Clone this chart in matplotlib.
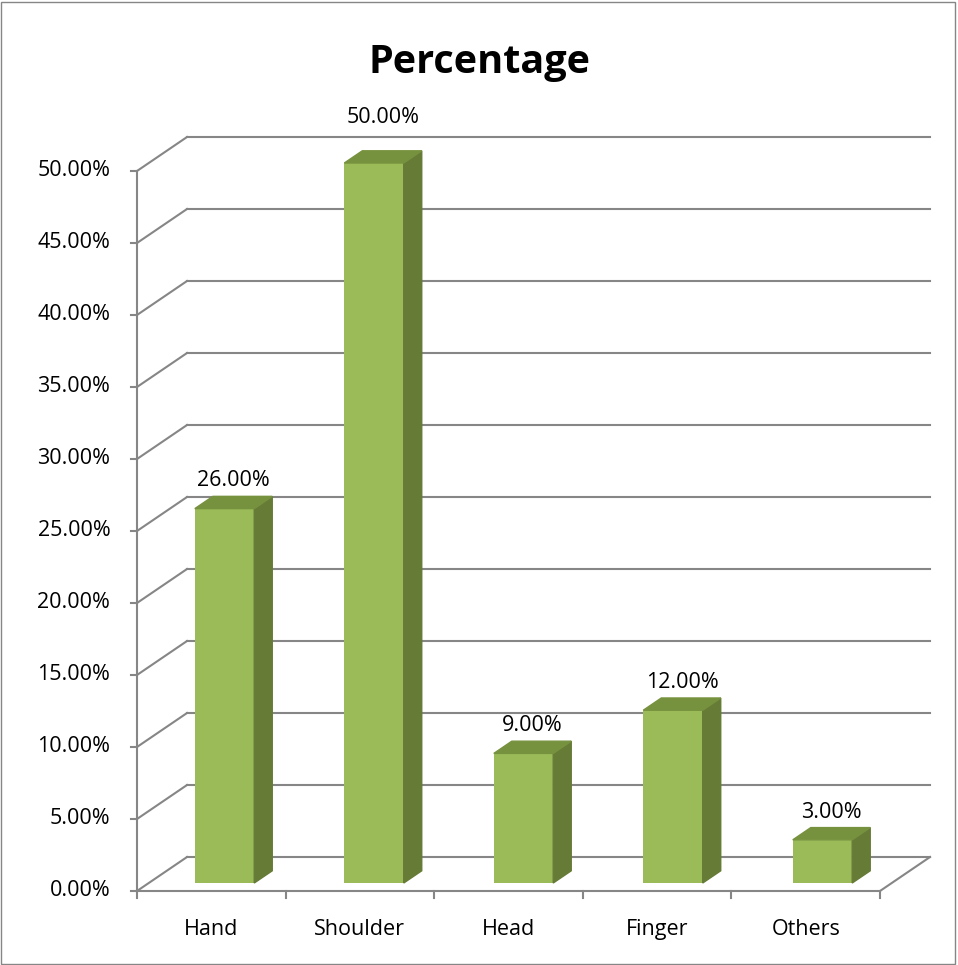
import matplotlib
matplotlib.use("Agg")
import matplotlib.pyplot as plt
from matplotlib.patches import Polygon, Rectangle

plt.rcParams['font.family'] = ['Open Sans', 'DejaVu Sans']

# data
categories = ["Hand", "Shoulder", "Head", "Finger", "Others"]
values = [26.0, 50.0, 9.0, 12.0, 3.0]
yticks = [0, 5, 10, 15, 20, 25, 30, 35, 40, 45, 50]

# 3d look (oblique projection, in data units)
DDX = 0.3365   # x shift of back wall (category units)
DDY = 2.36     # y shift of back wall (percent units)
D0 = 0.235     # depth of bar front face
DT = 0.36      # bar depth
BW = 0.40      # bar width

FRONT = "#9BBB59"
SIDE = "#657B36"
TOP = "#77923E"
GRID = "#868686"

fig = plt.figure(figsize=(9.58, 9.65), dpi=100)
ax = fig.add_axes([0, 0, 1, 1])
ax.set_xlim(-137 / 148.6, (958 - 137) / 148.6)
ax.set_ylim((891 - 965) / 14.4, 891 / 14.4)
ax.axis('off')

n = len(categories)

# back wall gridlines + left wall diagonals
for v in yticks:
    ax.plot([DDX, n + DDX], [v + DDY, v + DDY], color=GRID, lw=1.5, zorder=1)
    ax.plot([0, DDX], [v, v + DDY], color=GRID, lw=1.5, zorder=1)
    ax.plot([-0.04, 0], [v, v], color=GRID, lw=1.5, zorder=1)

# floor
ax.plot([0, n], [0, 0], color=GRID, lw=1.5, zorder=1)
ax.plot([n, n + DDX], [0, DDY], color=GRID, lw=1.5, zorder=1)
ax.plot([0, 0], [0, max(yticks)], color=GRID, lw=1.5, zorder=1)
for i in range(n + 1):
    ax.plot([i, i], [0, -0.5], color=GRID, lw=1.5, zorder=1)

# bars
ox, oy = D0 * DDX, D0 * DDY
sx, sy = DT * DDX, DT * DDY
xs = [i + 0.5 + ox + 0.01 + 0.006 * i for i in range(n)]
ax.bar(xs, values, width=BW, bottom=oy, color=FRONT, zorder=3)
for x, v in zip(xs, values):
    r = x + BW / 2
    l = x - BW / 2
    top = v + oy
    ax.add_patch(Polygon([(r, oy), (r + sx, oy + sy), (r + sx, top + sy), (r, top)],
                         closed=True, color=SIDE, zorder=3))
    ax.add_patch(Polygon([(l, top), (r, top), (r + sx, top + sy), (l + sx, top + sy)],
                         closed=True, color=TOP, zorder=3))
    pad = 1.6 if v == max(values) else 0.35
    ax.text(x + sx / 2, top + sy + pad, f"{v:.2f}%", ha='center', va='bottom',
            fontsize=15.5, zorder=4)

# tick labels
for v in yticks:
    ax.text(-0.18, v, f"{v:.2f}%", ha='right', va='center', fontsize=15.5)
for i, c in enumerate(categories):
    ax.text(i + 0.5, -2.64, c, ha='center', va='center', fontsize=15.5)

ax.text(0.5, 0.935, "Percentage", transform=fig.transFigure, ha='center',
        va='center', fontsize=28.5, fontweight='bold')

fig.patches.append(Rectangle((1 / 958, 1 / 965), 954 / 958, 962 / 965,
                             transform=fig.transFigure, fill=False,
                             edgecolor=GRID, lw=1))

fig.savefig("out.png", dpi=100)
